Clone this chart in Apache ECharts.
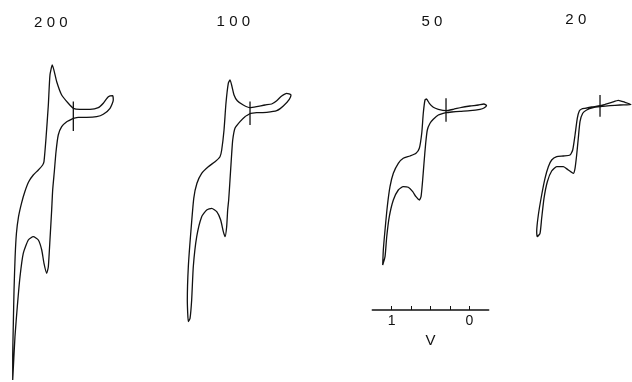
<!DOCTYPE html>
<html>
<head>
<meta charset="utf-8">
<script src="https://cdn.jsdelivr.net/npm/echarts@6/dist/echarts.min.js"></script>
<style>
html,body{margin:0;padding:0;background:#fff;}
#chart{width:632px;height:382px;}
</style>
</head>
<body>
<div id="chart"></div>
<script>
// Scan rates (mV/s) shown above each voltammogram
const scanRates = ["200", "100", "50", "20"];

// Potential (V) and current (arbitrary units, 0 at start marker) for each loop
const potential200 = [0.300,0.236,0.128,-0.001,-0.086,-0.173,-0.215,-0.207,-0.151,-0.086,-0.022,0.085,0.214,0.300,0.365,0.450,0.514,0.571,0.601,0.622,0.652,0.678,0.695,0.751,0.816,0.875,0.925,0.968,1.006,1.033,1.050,1.064,1.073,1.081,1.081,1.052,1.022,0.987,0.945,0.880,0.816,0.751,0.707,0.678,0.643,0.622,0.601,0.579,0.566,0.545,0.523,0.494,0.450,0.385,0.300];
const current200 = [-2.3,-1.3,-1.3,-0.7,1.7,7.7,16,20.3,19.3,12.7,8.3,6.7,6.7,7.7,12.7,21,34.3,51,41,11,-22.3,-45.7,-49,-54,-59,-65.7,-75.7,-87.3,-100.7,-117.3,-140.7,-174,-207.3,-240.7,-264,-220.7,-190.7,-160.7,-137.3,-124,-120.7,-124,-134,-147.3,-157.3,-150.7,-124,-94,-74,-55.7,-35.7,-19,-10.7,-5.7,-2.3];

const potential100 = [0.291,0.214,0.085,-0.044,-0.129,-0.206,-0.228,-0.173,-0.108,-0.044,0.021,0.107,0.214,0.300,0.387,0.464,0.506,0.558,0.580,0.610,0.635,0.665,0.687,0.751,0.838,0.923,0.984,1.025,1.064,1.095,1.108,1.095,1.073,1.052,1.031,0.987,0.923,0.858,0.794,0.729,0.678,0.644,0.622,0.601,0.588,0.575,0.558,0.536,0.523,0.494,0.429,0.365,0.291];
const current100 = [0,0.6,1,2.6,7.3,14,18.3,20,17.3,12.6,9.3,8.3,6.6,5.6,8.3,12.6,18.3,33.3,30,10,-16.7,-36.7,-43.4,-48.4,-53.4,-60,-70,-85,-120,-153.4,-186.7,-208.4,-205,-186.7,-153.4,-123.4,-103.4,-96.7,-95,-98.4,-106.7,-118.4,-123.4,-113.4,-96.7,-86.7,-66.7,-40,-26.7,-15,-8.4,-3.4,0];

const potential50 = [0.300,0.227,0.120,-0.009,-0.138,-0.189,-0.222,-0.189,-0.116,-0.009,0.098,0.206,0.300,0.399,0.464,0.515,0.552,0.571,0.593,0.613,0.644,0.687,0.764,0.851,0.915,0.979,1.022,1.057,1.086,1.108,1.116,1.086,1.064,1.031,0.979,0.915,0.851,0.786,0.729,0.687,0.644,0.622,0.601,0.584,0.562,0.541,0.506,0.464,0.399,0.300];
const current50 = [-2.7,-2,-1.3,-0.7,0.7,2,4.5,6,5,4,2.7,0.7,-0.7,0.7,2.7,6.7,11,10,-3.3,-23.3,-38.3,-43.3,-46,-48.3,-53.3,-63.3,-76.7,-96.7,-120,-140,-155,-146.7,-126.7,-106.7,-90,-80,-76.7,-77.3,-81.7,-86.7,-90,-86.7,-70,-53.3,-33.3,-20,-13.3,-9.3,-5,-2.7];

const potential20 = [0.300,0.171,0.043,-0.099,-0.022,0.064,0.149,0.236,0.300,0.407,0.494,0.536,0.567,0.593,0.622,0.652,0.687,0.773,0.858,0.923,0.966,1.009,1.052,1.095,1.116,1.108,1.073,1.052,1.022,0.979,0.923,0.858,0.773,0.709,0.644,0.622,0.601,0.580,0.558,0.523,0.472,0.387,0.300];
const current20 = [-0.7,0.3,1,1.5,3.7,5.7,3.7,1.7,0.3,-1,-2.3,-3,-5,-12.3,-29,-44,-49,-50,-50.7,-54,-60.7,-72.3,-89,-109,-125.7,-130.7,-127.3,-112.3,-92.3,-75.7,-65,-60.7,-60.7,-64,-67.3,-62.3,-49,-32.3,-15.7,-7.3,-4,-1.7,-0.7];

// Start-potential marker (V) and its vertical extent (current units) per panel
const markerPotential = 0.3;
const markerTop = [14.5, 11.7, 11.7, 11];
const markerBottom = [-15, -11.7, -11.7, -10.7];

// Potential scale bar ticks / labels (V)
const scaleTicks = [0, 0.25, 0.5, 0.75, 1];
const scaleLabels = [0, 1];

const potentials = [potential200, potential100, potential50, potential20];
const currents = [current200, current100, current50, current20];

// Layout (pixels): V=0 position and start-marker level of each panel
const pxPerVolt = 77.6;
const zeroX = [96.6, 273.3, 469.3, 623.3];
const markerY = [116, 113.3, 110, 106];
const yMaxAll = 60;
const yMinAll = [-300, -300, -200, -300];
const labelPos = [[50.8, 23.3], [233.3, 21.7], [432, 21.5], [575.8, 19.5]];

const ink = '#111111';
const grids = [], xAxes = [], yAxes = [], series = [], graphics = [];

for (let i = 0; i < 4; i++) {
  const left = zeroX[i] - 1.25 * pxPerVolt;
  const top = markerY[i] - yMaxAll;
  grids.push({
    left: left, top: top,
    width: 1.5 * pxPerVolt,
    height: yMaxAll - yMinAll[i],
    outerBoundsMode: 'none',
    containLabel: false
  });
  const isScale = (i === 2);
  xAxes.push({
    type: 'value', gridIndex: i, inverse: true,
    min: -0.25, max: 1.25,
    position: 'bottom',
    show: isScale,
    axisLine: { show: isScale, onZero: false, lineStyle: { color: ink, width: 1.5 } },
    axisTick: { show: isScale, inside: true, length: 4, customValues: scaleTicks, lineStyle: { color: ink, width: 1 } },
    axisLabel: { show: isScale, customValues: scaleLabels, color: ink, fontSize: 14, margin: 4, fontFamily: 'Liberation Sans' },
    splitLine: { show: false },
    name: isScale ? 'V' : '',
    nameLocation: 'middle', nameGap: 21,
    nameTextStyle: { color: ink, fontSize: 15, fontFamily: 'Liberation Sans' }
  });
  yAxes.push({
    type: 'value', gridIndex: i,
    min: yMinAll[i], max: yMaxAll,
    show: false,
    splitLine: { show: false }
  });
  const data = potentials[i].map((v, k) => [v, currents[i][k]]);
  series.push({
    type: 'line', xAxisIndex: i, yAxisIndex: i,
    data: data, showSymbol: false, smooth: 0.18,
    clip: false, silent: true, animation: false,
    lineStyle: { color: ink, width: 1.3 }
  });
  series.push({
    type: 'line', xAxisIndex: i, yAxisIndex: i,
    data: [[markerPotential, markerTop[i]], [markerPotential, markerBottom[i]]],
    showSymbol: false, silent: true, animation: false,
    lineStyle: { color: ink, width: 1.3 }
  });
  graphics.push({
    type: 'text', x: labelPos[i][0], y: labelPos[i][1],
    style: {
      text: scanRates[i].split('').join(' '),
      fill: ink, font: '15px "Liberation Sans"',
      align: 'center', verticalAlign: 'middle'
    }
  });
}

const chart = echarts.init(document.getElementById('chart'), null, { renderer: 'canvas' });
chart.setOption({
  animation: false,
  backgroundColor: '#ffffff',
  grid: grids,
  xAxis: xAxes,
  yAxis: yAxes,
  series: series,
  graphic: graphics
});
</script>
</body>
</html>
